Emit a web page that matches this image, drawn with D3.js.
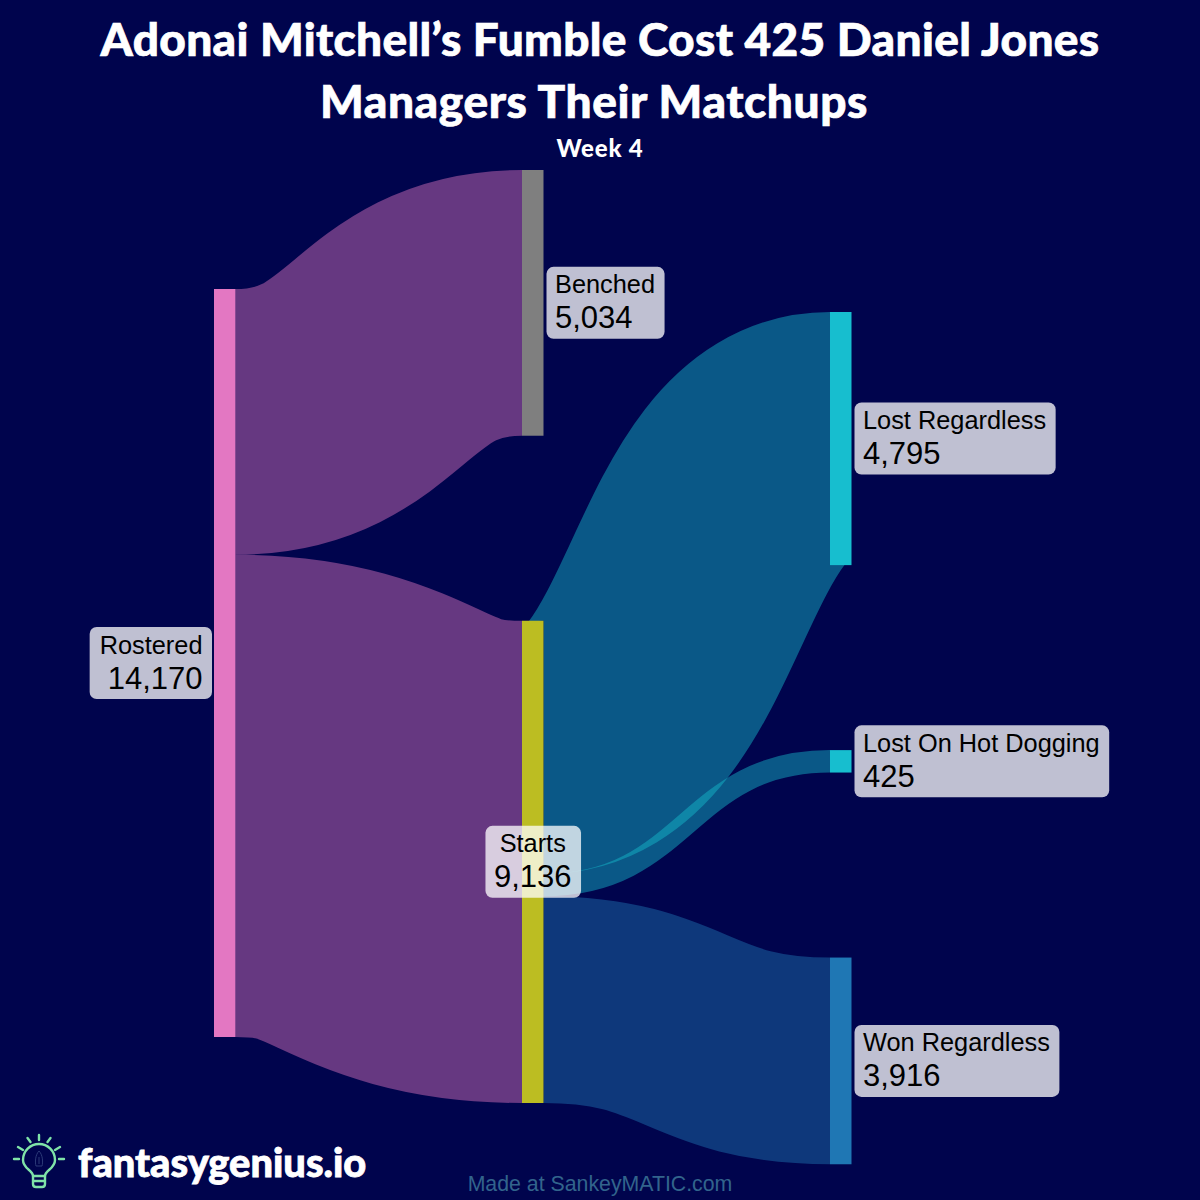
<!DOCTYPE html>
<html><head><meta charset="utf-8">
<script src="https://cdn.jsdelivr.net/npm/d3@7"></script>
<style>html,body{margin:0;padding:0;background:#00044d}svg{display:block}</style>
</head><body><div id="c"></div>
<script>
const titleLines = ["Adonai Mitchell’s Fumble Cost 425 Daniel Jones", "Managers Their Matchups"];
const subtitle = "Week 4";
const footer = "Made at SankeyMATIC.com";
const brand = "fantasygenius.io";
const nodeNames = ["Rostered","Benched","Starts","Lost Regardless","Lost On Hot Dogging","Won Regardless"];
const nodeValues = [14170,5034,9136,4795,425,3916];
const nodeColumns = [0,1,1,2,2,2];
const nodeColors = ["#e377c2","#7f7f7f","#bcbd22","#17becf","#17becf","#1f77b4"];
const linkSources = ["Rostered","Rostered","Starts","Starts","Starts"];
const linkTargets = ["Benched","Starts","Lost Regardless","Lost On Hot Dogging","Won Regardless"];
const linkValues = [5034,9136,4795,425,3916];

const W=1200,H=1200,nodeW=21.5,gap=185;
const columnTops=[289,170,312];
const svg=d3.select("#c").append("svg").attr("width",W).attr("height",H);
svg.append("rect").attr("width",W).attr("height",H).attr("fill","#00044d");

const x=d3.scalePoint().domain([0,1,2]).range([214,830]);
const k=d3.scaleLinear().domain([0,d3.sum(nodeValues.slice(0,1))]).range([0,748]);

const nodes=nodeNames.map((name,i)=>({name,value:nodeValues[i],col:nodeColumns[i],color:nodeColors[i]}));
columnTops.forEach((top,c)=>{
  let y=top;
  nodes.filter(n=>n.col===c).forEach(n=>{n.y0=y;n.y1=y+k(n.value);y=n.y1+gap;n.out=n.y0;n.in=n.y0;});
});
const byName=new Map(nodes.map(n=>[n.name,n]));
const links=linkValues.map((value,i)=>{
  const s=byName.get(linkSources[i]),t=byName.get(linkTargets[i]),w=k(value);
  const l={value,w,source:[x(s.col)+nodeW,s.out+w/2],target:[x(t.col),t.in+w/2],
           color:s.col===0?s.color:t.color};
  s.out+=w;t.in+=w;return l;
});
const linkPath=d3.linkHorizontal();
svg.append("g").attr("fill","none").selectAll("path").data(links).join("path")
  .attr("d",d=>linkPath(d)).attr("stroke",d=>d.color).attr("stroke-width",d=>d.w).attr("stroke-opacity",0.45);
svg.append("g").selectAll("rect").data(nodes).join("rect")
  .attr("x",d=>x(d.col)).attr("y",d=>d.y0).attr("width",nodeW).attr("height",d=>d.y1-d.y0).attr("fill",d=>d.color);

// labels
const font="'Liberation Sans',Arial,sans-serif";
const fmt=d3.format(",");
const labels=svg.append("g");
nodes.forEach(n=>{
  const g=labels.append("g");
  const cy=(n.y0+n.y1)/2;
  let lx,anchor;
  if(n.col===0){lx=x(0)-11.5;anchor="end";}
  else if(n.name==="Starts"){lx=x(1)+nodeW/2;anchor="middle";}
  else {lx=x(n.col)+nodeW+11.5;anchor="start";}
  const box=g.append("rect").attr("rx",7).attr("fill","#fff").attr("fill-opacity",0.75);
  const a=g.append("text").attr("x",lx).attr("y",cy-9.5).attr("text-anchor",anchor)
    .attr("font-family",font).attr("font-size",25.35).attr("fill","#000").text(n.name);
  const b=g.append("text").attr("x",lx).attr("y",cy+25.5).attr("text-anchor",anchor)
    .attr("font-family",font).attr("font-size",31).attr("fill","#000").text(fmt(n.value));
  const w=Math.max(a.node().getComputedTextLength(),b.node().getComputedTextLength());
  const left=anchor==="start"?lx:anchor==="end"?lx-w:lx-w/2;
  const padL=anchor==="end"?10:8.5;
  box.attr("x",left-padL).attr("width",w+padL+9.5).attr("y",cy-36).attr("height",72);
});

// title
const tf="'Lato','Noto Sans',sans-serif";
svg.append("g").selectAll("text").data(titleLines).join("text")
  .attr("x",(d,i)=>i?594:600).attr("y",(d,i)=>56+i*62).attr("text-anchor","middle")
  .attr("font-family",tf).attr("font-weight",900).attr("font-size",46).attr("letter-spacing",(d,i)=>i?0.6:0.32).attr("fill","#fff").attr("stroke","#fff").attr("stroke-width",0.7).text(d=>d);
svg.append("text").attr("x",600).attr("y",157).attr("text-anchor","middle")
  .attr("font-family",tf).attr("font-weight",900).attr("font-size",24).attr("letter-spacing",0.8).attr("fill","#fff").text(subtitle);
svg.append("text").attr("x",600).attr("y",1191).attr("text-anchor","middle")
  .attr("font-family",font).attr("font-size",21.3).attr("fill","#32648c").text(footer);

// brand mark
const bulb=svg.append("g").attr("fill","none").attr("stroke","#7fe3a8").attr("stroke-width",2.4).attr("stroke-linecap","round").attr("stroke-linejoin","round");
bulb.append("path").attr("d","M33,1176 C33,1170 23,1169 23,1160 A16,16 0 1 1 55,1160 C55,1169 45,1170 45,1176 Z");
bulb.append("path").attr("d","M33,1176 V1184 Q33,1187 36,1187 H42 Q45,1187 45,1184 V1176 M33,1181 H45");
bulb.append("path").attr("d","M39,1135 V1140 M27.5,1138 L30.5,1142 M50.5,1138 L47.5,1142 M18,1147 L23,1150 M60,1147 L55,1150 M14,1159 H19 M59,1159 H64");
svg.append("path").attr("d","M39,1151 C35,1155 35,1163 36,1166 H42 C43,1163 43,1155 39,1151 Z M39,1157 V1164").attr("fill","none").attr("stroke","#2c3a78").attr("stroke-width",1);
svg.append("text").attr("x",78).attr("y",1177).attr("font-family",tf).attr("font-weight",900).attr("font-size",39.8).attr("stroke","#fff").attr("stroke-width",0.8).attr("fill","#fff").text(brand);
</script></body></html>
